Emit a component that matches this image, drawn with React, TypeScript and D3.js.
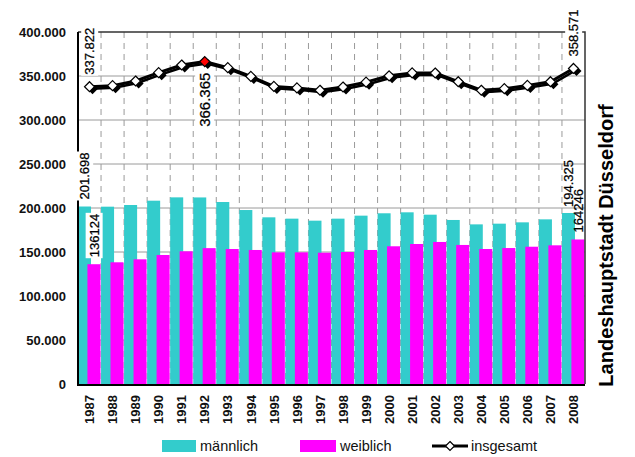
import React, { useEffect, useRef } from "react";
import * as d3 from "d3";

const years = [
  "1987", "1988", "1989", "1990", "1991", "1992", "1993", "1994", "1995", "1996", "1997",
  "1998", "1999", "2000", "2001", "2002", "2003", "2004", "2005", "2006", "2007", "2008",
];
const maennlich = [
  201698, 201500, 203400, 208300, 212100, 212000, 206800, 197700, 189400, 187900, 185600,
  187900, 191300, 194000, 195100, 192400, 186400, 181400, 182200, 183700, 187100, 194325,
];
const weiblich = [
  136124, 138300, 141700, 146600, 150800, 154400, 153400, 152300, 149600, 149600, 149200,
  150000, 152300, 156500, 159100, 161400, 158000, 153400, 154500, 156000, 157600, 164246,
];
const insgesamt = [
  337822, 339000, 344300, 353800, 362500, 366365, 359500, 349500, 338200, 336500, 333800,
  337500, 343000, 350200, 353500, 353400, 343500, 333800, 335600, 339300, 343500, 358571,
];
const yTicks = [0, 50000, 100000, 150000, 200000, 250000, 300000, 350000, 400000];
const legendItems = ["männlich", "weiblich", "insgesamt"];
const title = "Landeshauptstadt Düsseldorf";

const FONT = "'Liberation Sans', Arial, Helvetica, sans-serif";
const CYAN = "#33cccc";
const MAGENTA = "#ff00ff";

export default function App() {
  const svgRef = useRef<SVGSVGElement>(null);

  useEffect(() => {
    if (!svgRef.current) return;
    const width = 635;
    const height = 457;
    const margin = { top: 32, right: 50, bottom: 73, left: 78 };

    const svg = d3.select(svgRef.current);
    svg.selectAll("*").remove();
    svg.attr("width", width).attr("height", height).attr("viewBox", `0 0 ${width} ${height}`);
    svg.append("rect").attr("width", width).attr("height", height).attr("fill", "#fff");

    const de = d3.formatLocale({ decimal: ",", thousands: ".", grouping: [3], currency: ["", "€"] });
    const fmt = de.format(",d");
    const fmtPlain = d3.format("d");

    const x = d3
      .scaleBand<string>()
      .domain(years)
      .range([margin.left, width - margin.right])
      .padding(0);
    const y = d3
      .scaleLinear()
      .domain([0, 400000])
      .range([height - margin.bottom, margin.top]);
    const bw = x.bandwidth();
    const cx = (i: number) => (x(years[i]) as number) + bw / 2;

    // grid
    svg
      .append("g")
      .selectAll("line")
      .data(yTicks.slice(1, -1))
      .join("line")
      .attr("x1", margin.left)
      .attr("x2", width - margin.right)
      .attr("y1", (d) => y(d))
      .attr("y2", (d) => y(d))
      .attr("stroke", "#9a9a9a")
      .attr("stroke-width", 1);
    svg
      .append("g")
      .selectAll("line")
      .data(years.slice(1))
      .join("line")
      .attr("x1", (d) => x(d) as number)
      .attr("x2", (d) => x(d) as number)
      .attr("y1", y(400000))
      .attr("y2", y(0))
      .attr("stroke", "#9a9a9a")
      .attr("stroke-width", 1)
      .attr("stroke-dasharray", "6,5");

    // bars
    const bar = 0.565 * bw;
    svg
      .append("g")
      .selectAll("rect")
      .data(maennlich)
      .join("rect")
      .attr("x", (_, i) => x(years[i]) as number)
      .attr("y", (d) => y(d))
      .attr("width", bar)
      .attr("height", (d) => y(0) - y(d))
      .attr("fill", CYAN);
    svg
      .append("g")
      .selectAll("rect")
      .data(weiblich)
      .join("rect")
      .attr("x", (_, i) => (x(years[i]) as number) + 0.41 * bw)
      .attr("y", (d) => y(d))
      .attr("width", bar)
      .attr("height", (d) => y(0) - y(d))
      .attr("fill", MAGENTA);

    // frame + axes
    svg
      .append("path")
      .attr("d", `M${margin.left},${y(400000)}H${width - margin.right}V${y(0)}`)
      .attr("fill", "none")
      .attr("stroke", "#333")
      .attr("stroke-width", 1.5);
    svg
      .append("line")
      .attr("x1", margin.left)
      .attr("x2", margin.left)
      .attr("y1", y(400000))
      .attr("y2", y(0) + 1)
      .attr("stroke", "#000")
      .attr("stroke-width", 2);
    svg
      .append("line")
      .attr("x1", margin.left - 1)
      .attr("x2", width - margin.right)
      .attr("y1", y(0) + 1)
      .attr("y2", y(0) + 1)
      .attr("stroke", "#000")
      .attr("stroke-width", 2);

    svg
      .append("g")
      .selectAll("text")
      .data(yTicks)
      .join("text")
      .attr("x", margin.left - 12)
      .attr("y", (d) => y(d))
      .attr("dy", "0.36em")
      .attr("text-anchor", "end")
      .attr("font-family", FONT)
      .attr("font-weight", "bold")
      .attr("font-size", 13)
      .attr("fill", "#111")
      .text((d) => (d === 0 ? "0" : fmt(d)));

    svg
      .append("g")
      .selectAll("text")
      .data(years)
      .join("text")
      .attr("transform", (_, i) => `translate(${cx(i)},${y(0) + 11}) rotate(-90)`)
      .attr("dy", "0.36em")
      .attr("text-anchor", "end")
      .attr("font-family", FONT)
      .attr("font-weight", "bold")
      .attr("font-size", 13)
      .attr("fill", "#111")
      .text((d) => d);

    // labels, optionally with white background
    const label = (px: number, py: number, txt: string, anchor: string, size = 13, box = true) => {
      const g = svg.append("g").attr("transform", `translate(${px},${py}) rotate(-90)`);
      const bg = g.append("rect").attr("fill", box ? "#fff" : "none");
      const t = g
        .append("text")
        .attr("dy", "0.36em")
        .attr("text-anchor", anchor)
        .attr("font-family", FONT)
        .attr("font-size", size)
        .attr("fill", "#000")
        .attr("stroke", "#000")
        .attr("stroke-width", 0.25)
        .text(txt);
      const b = (t.node() as SVGTextElement).getBBox();
      bg.attr("x", b.x - 1).attr("y", b.y - 1).attr("width", b.width + 2).attr("height", b.height + 2);
    };

    const last = years.length - 1;
    const mLeft = (i: number) => (x(years[i]) as number) + bar / 2;
    const wLeft = (i: number) => (x(years[i]) as number) + 0.41 * bw + bar / 2;
    label(mLeft(0), y(maennlich[0]) - 7, fmt(maennlich[0]), "start");
    label(wLeft(0), y(weiblich[0]) - 7, fmtPlain(weiblich[0]), "start");
    label(mLeft(last), y(maennlich[last]) - 6, fmt(maennlich[last]), "start", 13, false);
    label(wLeft(last), y(weiblich[last]) - 7, fmtPlain(weiblich[last]), "start", 13, false);

    // line
    const line = d3
      .line<number>()
      .x((_, i) => cx(i))
      .y((d) => y(d));
    svg
      .append("path")
      .datum(insgesamt)
      .attr("d", line)
      .attr("transform", "translate(2,2)")
      .attr("fill", "none")
      .attr("stroke", "#000")
      .attr("stroke-width", 2.5);
    svg
      .append("path")
      .datum(insgesamt)
      .attr("d", line)
      .attr("fill", "none")
      .attr("stroke", "#000")
      .attr("stroke-width", 3);

    const diamond = (px: number, py: number, r: number) =>
      `M${px},${py - r}L${px + r},${py}L${px},${py + r}L${px - r},${py}Z`;
    const maxIdx = d3.maxIndex(insgesamt);
    svg
      .append("g")
      .selectAll("path")
      .data(insgesamt)
      .join("path")
      .attr("d", (d, i) => diamond(cx(i) + 3, y(d) + 2.5, 5))
      .attr("fill", "#000");
    svg
      .append("g")
      .selectAll("path")
      .data(insgesamt)
      .join("path")
      .attr("d", (d, i) => diamond(cx(i), y(d), 5))
      .attr("fill", (_, i) => (i === maxIdx ? "#ff0000" : "#fff"))
      .attr("stroke", "#000")
      .attr("stroke-width", 1.2);

    label(cx(0), y(insgesamt[0]) - 12, fmt(insgesamt[0]), "start");
    label(cx(maxIdx), y(insgesamt[maxIdx]) + 11, fmt(insgesamt[maxIdx]), "end", 15);
    label(cx(last), y(insgesamt[last]) - 12, fmt(insgesamt[last]), "start");

    // legend
    const lg = svg.append("g").attr("font-family", FONT).attr("font-size", 14.5).attr("fill", "#111");
    const ly = 446;
    lg.append("rect").attr("x", 162).attr("y", ly - 6).attr("width", 34).attr("height", 12).attr("fill", CYAN);
    lg.append("text").attr("x", 200).attr("y", ly + 5).text(legendItems[0]);
    lg.append("rect").attr("x", 300).attr("y", ly - 6).attr("width", 36).attr("height", 12).attr("fill", MAGENTA);
    lg.append("text").attr("x", 340).attr("y", ly + 5).text(legendItems[1]);
    lg.append("line").attr("x1", 432).attr("x2", 468).attr("y1", ly).attr("y2", ly).attr("stroke", "#000").attr("stroke-width", 3);
    lg.append("path").attr("d", diamond(450, ly, 4.5)).attr("fill", "#fff").attr("stroke", "#000").attr("stroke-width", 1.2);
    lg.append("text").attr("x", 471).attr("y", ly + 5).text(legendItems[2]);

    // title
    svg
      .append("text")
      .attr("transform", `translate(613,245.5) rotate(-90)`)
      .attr("text-anchor", "middle")
      .attr("font-family", FONT)
      .attr("font-weight", "bold")
      .attr("font-size", 20)
      .attr("fill", "#000")
      .text(title);
  }, []);

  return <svg ref={svgRef} style={{ position: "absolute", left: 0, top: 0 }} />;
}
